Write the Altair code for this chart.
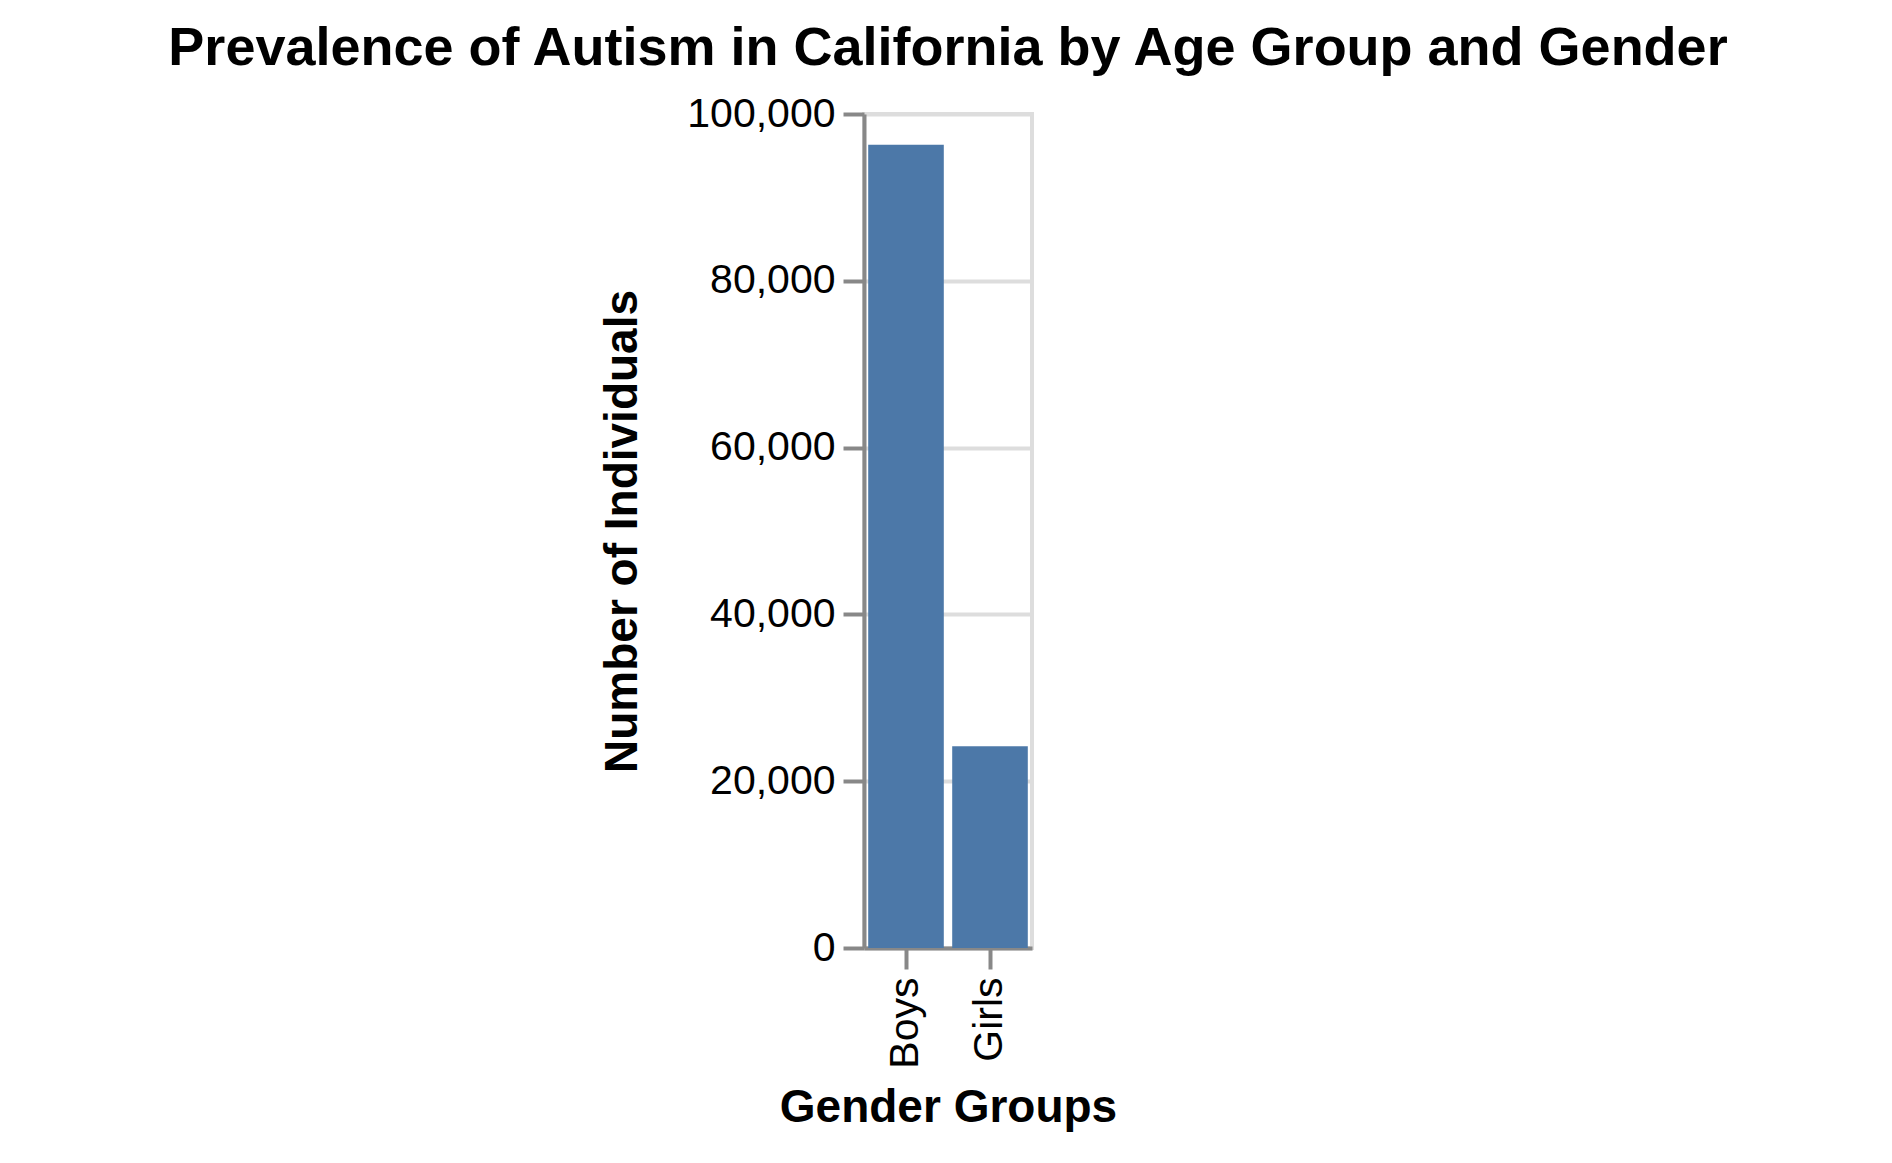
import altair as alt
import pandas as pd

genders = ["Boys", "Girls"]
counts = [96300, 24200]
y_ticks = [0, 20000, 40000, 60000, 80000, 100000]

df = pd.DataFrame({"Gender": genders, "Count": counts})

FONT = "Liberation Sans"

chart = alt.Chart(df).mark_bar(color="#4c78a8").encode(
    x=alt.X("Gender:N", title="Gender Groups",
            axis=alt.Axis(labelAngle=-90)),
    y=alt.Y("Count:Q", title="Number of Individuals",
            scale=alt.Scale(domain=[0, 100000]),
            axis=alt.Axis(values=y_ticks, format=",.0f", titlePadding=40)),
).properties(
    width=168,
    height=834,
    title=alt.TitleParams("Prevalence of Autism in California by Age Group and Gender",
                          fontSize=54, font=FONT, fontWeight="bold",
                          offset=17, anchor="middle", color="#000"),
    autosize=alt.AutoSizeParams(type="none"),
    padding={"left": 856, "top": 106, "right": 820, "bottom": 190},
).configure_axis(
    labelFontSize=41,
    titleFontSize=46,
    labelFont=FONT,
    titleFont=FONT,
    tickSize=21,
    tickWidth=4,
    domainWidth=4,
    gridWidth=4,
    labelPadding=8,
    titlePadding=17,
    labelColor="#000",
    titleColor="#000",
).configure_view(
    stroke="#ddd",
    strokeWidth=4,
)

chart.save("out.html", embed_options={"renderer": "svg", "actions": False})
